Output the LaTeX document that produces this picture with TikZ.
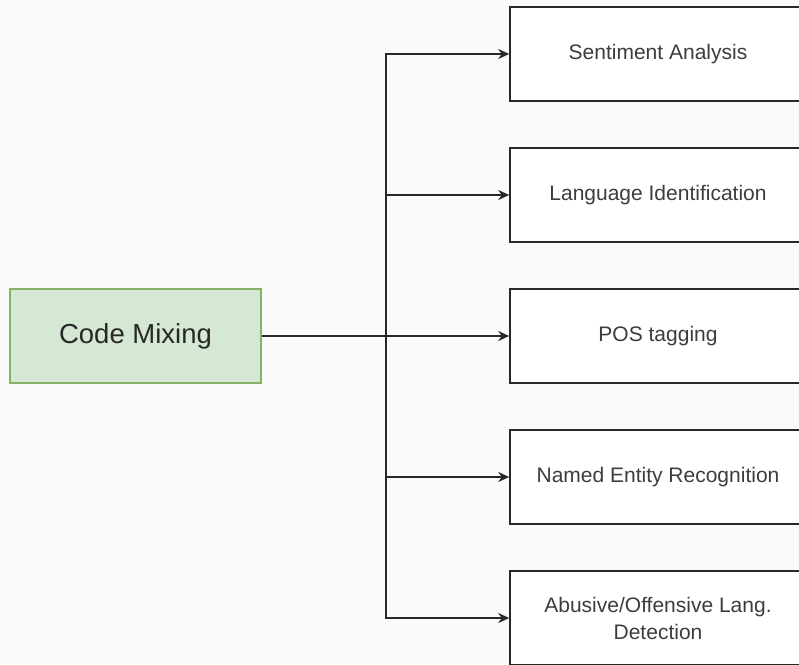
\documentclass[tikz,border=0pt]{standalone}
\usepackage{fontspec}
\setmainfont{Liberation Sans}
\usetikzlibrary{arrows.meta}
\definecolor{bgcol}{RGB}{250,250,250}
\definecolor{greenfill}{HTML}{D5E8D4}
\definecolor{greenline}{HTML}{82B366}
\definecolor{inkcol}{RGB}{40,40,40}
\tikzset{
  taskbox/.style={draw=inkcol, line width=1.6pt, fill=white, minimum width=296pt,
    minimum height=94pt, inner sep=0pt, align=center, font=\fontsize{21}{27}\selectfont,
    text=inkcol!90},
  rootbox/.style={draw=greenline, line width=1.4pt, fill=greenfill, minimum width=251pt,
    minimum height=94pt, inner sep=0pt, font=\fontsize{27.5}{32}\selectfont, text=inkcol},
  link/.style={draw=inkcol, line width=1.6pt, -{Stealth[length=11pt,width=10pt]}},
}
\begin{document}
\begin{tikzpicture}[x=1pt,y=-1pt]
  \fill[bgcol] (0,0) rectangle (799,664);
  \useasboundingbox (0,0) rectangle (799,664);
  \clip (0,0) rectangle (799,664);

  \node[rootbox] (cm) at (135.5,336) {Code Mixing};

  \node[taskbox] (t1) at (658,54)  {Sentiment Analysis};
  \node[taskbox] (t2) at (658,195) {Language Identification};
  \node[taskbox] (t3) at (658,336) {POS tagging};
  \node[taskbox] (t4) at (658,477) {Named Entity Recognition};
  \node[taskbox] (t5) at (658,618) {Abusive/Offensive Lang.\\Detection};

  \coordinate (j) at (386,336);

  \draw[link] (cm.east) -- (t3.west);
  \draw[link] (j) |- (t1.west);
  \draw[link] (j) |- (t2.west);
  \draw[link] (j) |- (t4.west);
  \draw[link] (j) |- (t5.west);
\end{tikzpicture}
\end{document}
